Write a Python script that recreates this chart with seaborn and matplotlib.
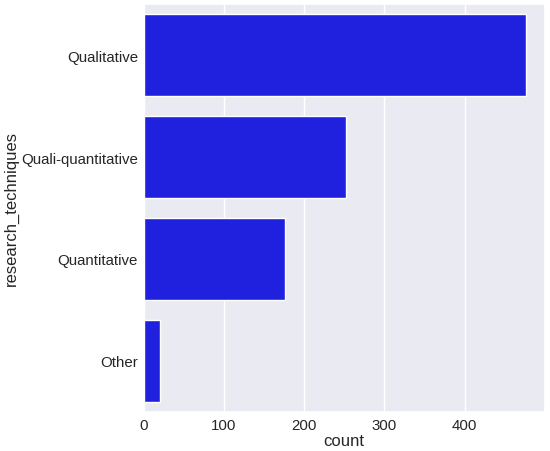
import matplotlib
matplotlib.use("Agg")
import matplotlib.pyplot as plt
import seaborn as sns
import pandas as pd

categories = ["Qualitative", "Quali-quantitative", "Quantitative", "Other"]
counts = [476, 252, 176, 20]

df = pd.DataFrame({"research_techniques": categories, "count": counts})

sns.set_theme(style="darkgrid")
plt.rcParams['font.family'] = ['Liberation Sans', 'DejaVu Sans']

fig = plt.figure(figsize=(5.5, 4.52), dpi=100)
ax = fig.add_axes([143.5/550, 1 - 413/452, 401.5/550, 408/452])
sns.barplot(data=df, y="research_techniques", x="count", color="blue", ax=ax, orient="h")
ax.set_xlim(0, 500)
ax.set_xticks([0, 100, 200, 300, 400])
ax.tick_params(axis='both', labelsize=10.8, length=0, pad=4)
ax.set_xlabel("count", fontsize=12, labelpad=1)
ax.set_ylabel("research_techniques", fontsize=12)
ax.yaxis.set_label_coords(-(143.5 - 19)/401.5, 0.5)
fig.savefig("out.png", dpi=100)
